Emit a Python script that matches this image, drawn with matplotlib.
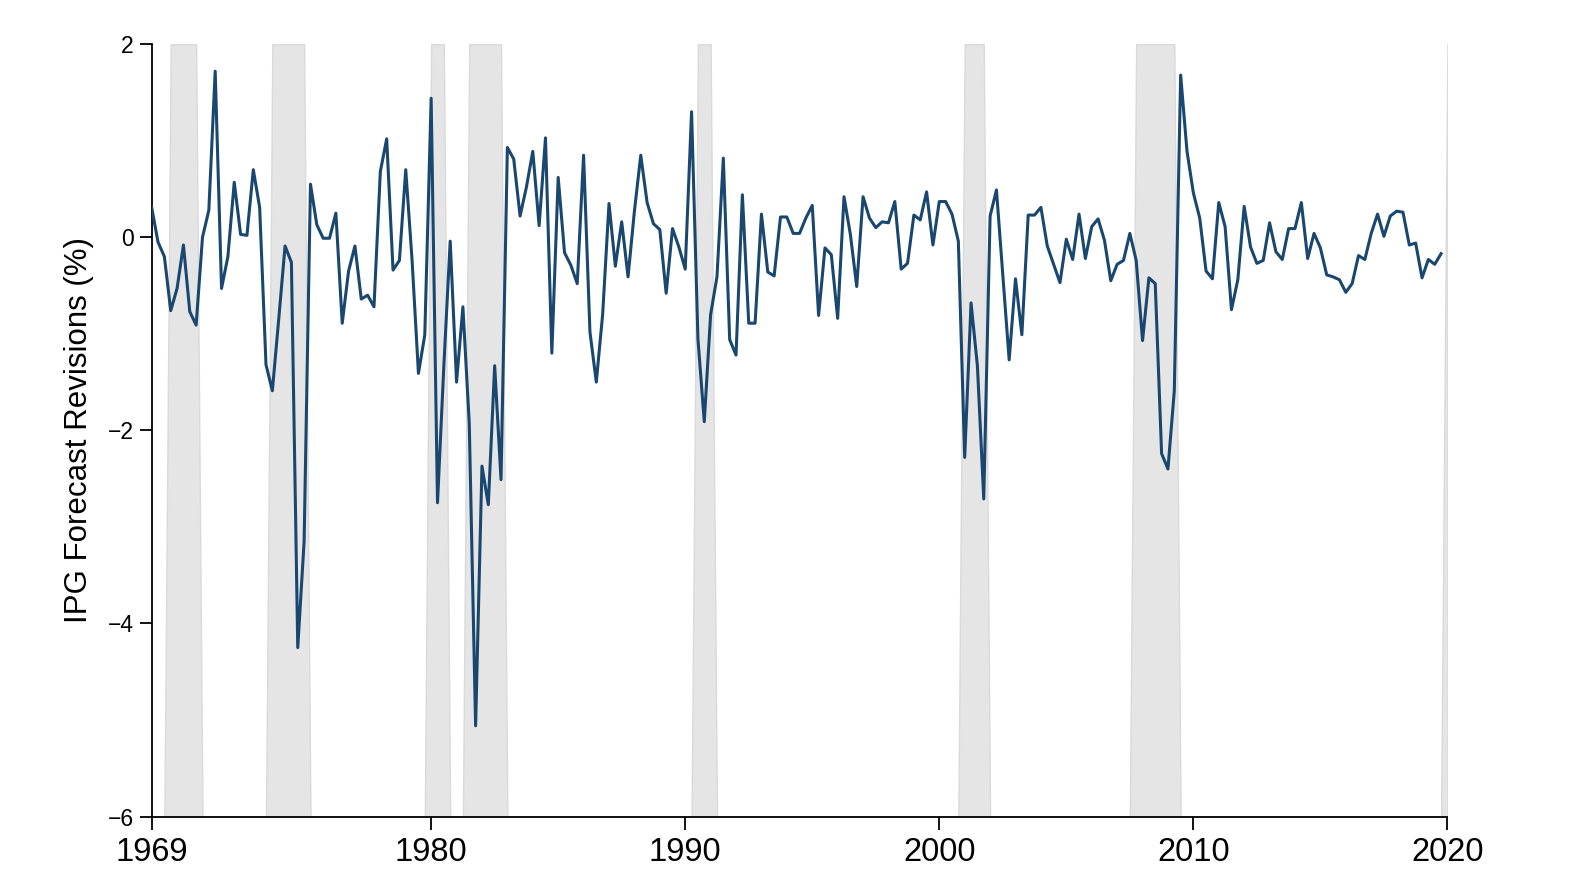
import numpy as np
import matplotlib
matplotlib.use("Agg")
import matplotlib.pyplot as plt

plt.rcParams['font.family'] = ['Liberation Sans', 'DejaVu Sans']

# quarterly IPG forecast revisions (%), 1969Q1 - 2019Q4
revisions = [
    0.31, -0.05, -0.20, -0.76,   # 1969
    -0.53, -0.08, -0.77, -0.91,  # 1970
    0.00, 0.28, 1.72, -0.53,     # 1971
    -0.20, 0.57, 0.03, 0.02,     # 1972
    0.70, 0.31, -1.32, -1.59,    # 1973
    -0.85, -0.09, -0.26, -4.25,  # 1974
    -3.15, 0.55, 0.13, -0.01,    # 1975
    -0.01, 0.25, -0.89, -0.35,   # 1976
    -0.09, -0.64, -0.60, -0.72,  # 1977
    0.68, 1.02, -0.34, -0.24,    # 1978
    0.70, -0.24, -1.41, -1.01,   # 1979
    1.44, -2.75, -1.33, -0.04,   # 1980
    -1.50, -0.72, -1.93, -5.06,  # 1981
    -2.37, -2.77, -1.33, -2.51,  # 1982
    0.93, 0.81, 0.22, 0.52,      # 1983
    0.89, 0.12, 1.03, -1.20,     # 1984
    0.62, -0.16, -0.29, -0.48,   # 1985
    0.85, -0.98, -1.50, -0.80,   # 1986
    0.35, -0.30, 0.16, -0.41,    # 1987
    0.27, 0.85, 0.36, 0.14,      # 1988
    0.08, -0.58, 0.09, -0.10,    # 1989
    -0.33, 1.30, -1.05, -1.91,   # 1990
    -0.80, -0.41, 0.82, -1.06,   # 1991
    -1.22, 0.44, -0.89, -0.89,   # 1992
    0.24, -0.36, -0.40, 0.21,    # 1993
    0.21, 0.04, 0.04, 0.20,      # 1994
    0.33, -0.81, -0.11, -0.18,   # 1995
    -0.84, 0.42, 0.03, -0.51,    # 1996
    0.42, 0.20, 0.10, 0.16,      # 1997
    0.15, 0.37, -0.33, -0.27,    # 1998
    0.23, 0.18, 0.47, -0.08,     # 1999
    0.37, 0.37, 0.24, -0.04,     # 2000
    -2.28, -0.68, -1.33, -2.71,  # 2001
    0.22, 0.49, -0.39, -1.27,    # 2002
    -0.43, -1.01, 0.23, 0.23,    # 2003
    0.31, -0.09, -0.28, -0.47,   # 2004
    -0.02, -0.23, 0.24, -0.22,   # 2005
    0.11, 0.19, -0.03, -0.45,    # 2006
    -0.28, -0.24, 0.04, -0.24,   # 2007
    -1.07, -0.42, -0.48, -2.24,  # 2008
    -2.40, -1.59, 1.68, 0.89,    # 2009
    0.46, 0.20, -0.35, -0.43,    # 2010
    0.36, 0.11, -0.75, -0.44,    # 2011
    0.32, -0.10, -0.27, -0.24,   # 2012
    0.15, -0.15, -0.23, 0.09,    # 2013
    0.09, 0.36, -0.22, 0.04,     # 2014
    -0.11, -0.39, -0.41, -0.44,  # 2015
    -0.57, -0.48, -0.19, -0.23,  # 2016
    0.04, 0.24, 0.01, 0.22,      # 2017
    0.27, 0.26, -0.08, -0.06,    # 2018
    -0.42, -0.23, -0.28, -0.17,  # 2019
]

# NBER recessions, first and last quarter (decimal years)
rec_start = [1969.75, 1973.75, 1980.0, 1981.5, 1990.5, 2001.0, 2007.75, 2020.0]
rec_end = [1970.75, 1975.0, 1980.5, 1982.75, 1991.0, 2001.75, 2009.25, 2020.0]

xticks = [1969, 1980, 1990, 2000, 2010, 2020]
yticks = [-6, -4, -2, 0, 2]

t = 1969 + np.arange(len(revisions)) / 4.0
tq = 1969 + np.arange(len(revisions) + 1) / 4.0
in_rec = np.zeros(len(tq), dtype=bool)
for s, e in zip(rec_start, rec_end):
    in_rec |= (tq >= s - 1e-9) & (tq <= e + 1e-9)
shade_top = np.where(in_rec, 2, -6)

fig = plt.figure(figsize=(15.75, 8.89), dpi=100)
ax = fig.add_axes([0.0963, 0.0815, 0.8227, 0.8688])

ax.fill_between(tq, -6, shade_top, color='#e5e5e5', edgecolor='#dadada',
                linewidth=1, zorder=1)
ax.plot(t, revisions, color='#1a476f', linewidth=2.2, zorder=3)

ax.set_xlim(1969, 2020)
ax.set_ylim(-6, 2)
ax.set_xticks(xticks)
ax.set_yticks(yticks)
ax.tick_params(axis='x', labelsize=23.5, length=9, width=1.3, pad=6)
ax.tick_params(axis='y', labelsize=16.5, length=9, width=1.3, pad=4)
ax.set_ylabel('IPG Forecast Revisions (%)', fontsize=22.5, labelpad=10)

for side in ['top', 'right']:
    ax.spines[side].set_visible(False)
for side in ['left', 'bottom']:
    ax.spines[side].set_linewidth(1.3)

fig.savefig('out.png', dpi=100)
